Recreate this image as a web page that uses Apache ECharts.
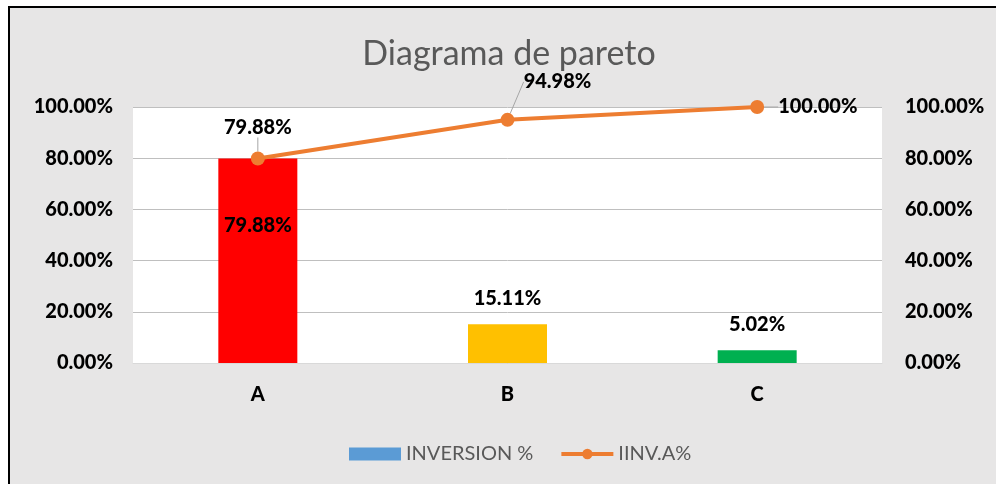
<!DOCTYPE html>
<html>
<head>
<meta charset="utf-8">
<script src="https://cdn.jsdelivr.net/npm/echarts@6/dist/echarts.min.js"></script>
<style>
  html, body { margin: 0; padding: 0; background: #fff; }
  #main {
    position: absolute; left: 8px; top: 6px;
    width: 988px; height: 478px; box-sizing: border-box;
    border-top: 2px solid #000; border-left: 2px solid #000;
    background: #E7E6E6;
  }
</style>
</head>
<body>
<div id="main"></div>
<script>
var categories = ["A", "B", "C"];
var inversion = [79.88, 15.11, 5.02];
var acumulado = [79.88, 94.98, 100.0];
var barColors = ["#FF0000", "#FFC000", "#00B050"];

var font = "Lato, 'Open Sans', sans-serif";
var pct = function (v) { return v.toFixed(2) + "%"; };
var boldText = { fontFamily: font, fontSize: 20, fontWeight: 900, color: "#000" };

var chartDom = document.getElementById("main");
var myChart = echarts.init(chartDom);
var option;
option = {
  backgroundColor: "#E7E6E6",
  textStyle: { fontFamily: font },
  title: {
    text: "Diagrama de pareto",
    left: 494, textAlign: "center", top: 24,
    textStyle: { fontFamily: font, fontSize: 34, fontWeight: "normal", color: "#595959" },
  },
  legend: {
    left: 334, top: 431,
    itemWidth: 52, itemHeight: 13, itemGap: 26,
    textStyle: { fontFamily: font, fontSize: 20, color: "#595959" },
    data: [
      { name: "INVERSION %", icon: "rect" },
      { name: "IINV.A%", lineStyle: { width: 4 } },
    ],
  },
  grid: {
    left: 123, right: 114, top: 99, bottom: 121,
    show: true, backgroundColor: "#fff", borderWidth: 0,
  },
  xAxis: {
    type: "category",
    data: categories,
    axisTick: { show: false },
    axisLine: { lineStyle: { color: "#D9D9D9", width: 1 } },
    axisLabel: Object.assign({ margin: 22 }, boldText),
  },
  yAxis: [
    {
      type: "value", min: 0, max: 100, interval: 20,
      axisLabel: Object.assign({ formatter: pct, margin: 20 }, boldText),
      splitLine: { lineStyle: { color: "#BFBFBF", width: 1 } },
    },
    {
      type: "value", min: 0, max: 100, interval: 20, position: "right",
      axisLabel: Object.assign({ formatter: pct, margin: 23 }, boldText),
      splitLine: { show: false },
    },
  ],
  series: [
    {
      name: "INVERSION %",
      type: "bar",
      barWidth: 79,
      itemStyle: { color: "#5B9BD5" },
      data: inversion.map(function (v, i) {
        var item = { value: v, itemStyle: { color: barColors[i] } };
        if (i === 0) item.label = { position: "insideTop", distance: 57 };
        return item;
      }),
      label: Object.assign({
        show: true, position: "top", distance: 16,
        formatter: function (p) { return pct(p.value); },
      }, boldText),
    },
    {
      name: "IINV.A%",
      type: "line",
      yAxisIndex: 1,
      symbol: "circle",
      symbolSize: 14,
      itemStyle: { color: "#ED7D31" },
      lineStyle: { color: "#ED7D31", width: 4 },
      data: acumulado.map(function (v, i) {
        var item = { value: v };
        if (i === 2) item.label = { position: "right", distance: 14 };
        return item;
      }),
      label: Object.assign({
        show: true, position: "top", distance: 14,
        formatter: function (p) { return pct(p.value); },
      }, boldText),
      labelLine: { show: true, lineStyle: { color: "#A6A6A6", width: 1 } },
      labelLayout: function (params) {
        if (params.dataIndex === 1) return { dx: 50, dy: -7 };
        return {};
      },
    },
  ],
};

option && myChart.setOption(option);
</script>
</body>
</html>
